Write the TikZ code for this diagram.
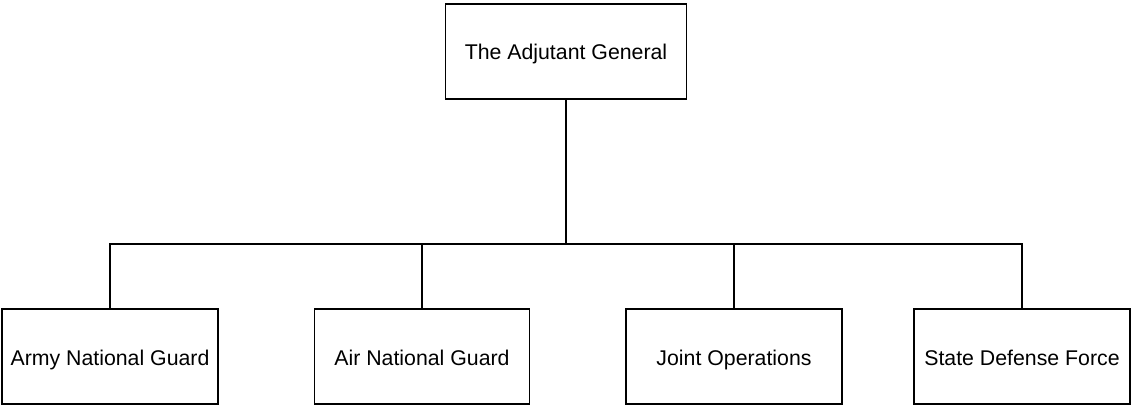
\documentclass[tikz,border=0pt]{standalone}
\usepackage{fontspec}
\setmainfont{Liberation Sans}
\begin{document}
\begin{tikzpicture}[x=1pt,y=-1pt,
  box/.style={draw=black,line width=1.1pt,rectangle,minimum height=95pt,inner sep=0pt,
    text height=21.5pt,text depth=4.5pt,
    font=\fontsize{21.3}{25}\selectfont},
  link/.style={draw=black,line width=1.1pt}]
\useasboundingbox (0,0) rectangle (1131,406);
\node[box,minimum width=241pt] (tag) at (566,51.5) {The Adjutant General};
\node[box,minimum width=216pt] (army) at (110,356.5) {Army National Guard};
\node[box,minimum width=215pt] (air) at (422,356.5) {Air National Guard};
\node[box,minimum width=216pt] (joint) at (734,356.5) {Joint Operations};
\node[box,minimum width=216pt] (sdf) at (1022,356.5) {State Defense Force};
\coordinate (bus) at (566,244);
\draw[link] (tag.south) -- (tag.south |- bus);
\draw[link] (army.north) -- (army.north |- bus) -- (sdf.north |- bus) -- (sdf.north);
\draw[link] (air.north) -- (air.north |- bus);
\draw[link] (joint.north) -- (joint.north |- bus);
\end{tikzpicture}
\end{document}
